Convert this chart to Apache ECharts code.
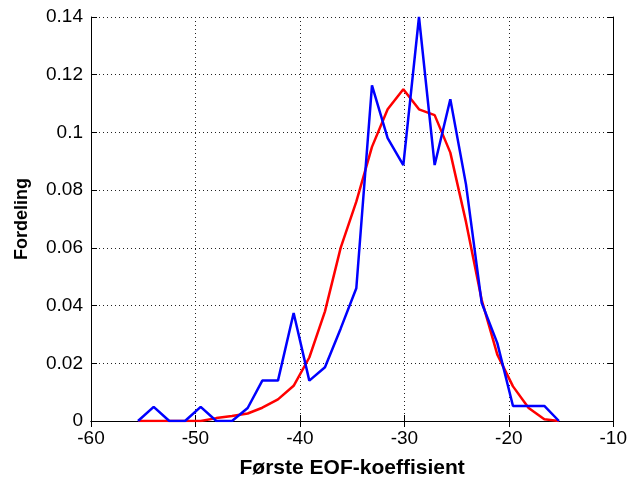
<!DOCTYPE html>
<html lang="no">

<head>
  <meta charset="UTF-8">
  <title>Fordeling</title>
  <script src="https://cdn.jsdelivr.net/npm/echarts@6/dist/echarts.min.js"></script>
  <style>
    * {
      padding: 0;
      margin: 0;
    }

    #main {
      width: 630px;
      height: 484px;
      background: #fff;
    }
  </style>
</head>

<body>
  <div id="main"></div>
  <script>
    // bin centres (first EOF coefficient)
    var binX = [-55.5, -54.0, -52.5, -51.0, -49.5, -48.0, -46.5, -45.0, -43.6, -42.1,
      -40.6, -39.1, -37.6, -36.1, -34.6, -33.1, -31.6, -30.1, -28.6, -27.1,
      -25.6, -24.1, -22.6, -21.1, -19.6, -18.1, -16.6, -15.2];
    // observed distribution (blue)
    var blueY = [0, 0.0049, 0, 0, 0.0049, 0, 0, 0.0045, 0.014, 0.014,
      0.0374, 0.014, 0.0186, 0.032, 0.046, 0.1163, 0.098, 0.0887, 0.14, 0.0887,
      0.1115, 0.082, 0.041, 0.027, 0.0052, 0.0052, 0.0052, 0];
    // smooth distribution (red)
    var redY = [0, 0, 0, 0, 0, 0.001, 0.0017, 0.0026, 0.0046, 0.0075,
      0.0122, 0.022, 0.038, 0.060, 0.076, 0.095, 0.108, 0.115, 0.108, 0.106,
      0.093, 0.069, 0.042, 0.023, 0.012, 0.0045, 0.0006, 0];

    var xMin = -60, xMax = -10, xStep = 10;
    var yMin = 0, yMax = 0.14, yStep = 0.02;

    function pairs(ys) {
      return binX.map(function (x, i) { return [x, ys[i]]; });
    }

    var chartDom = document.getElementById('main');
    var myChart = echarts.init(chartDom);
    var option;

    var font = 'Liberation Sans, Arial, sans-serif';
    var dotted = { color: '#222', width: 1, type: [1, 3] };
    var boxLine = { show: true, lineStyle: { color: '#000', width: 1 } };
    var inTick = { show: true, inside: true, length: 6, lineStyle: { color: '#000' } };

    option = {
      animation: false,
      backgroundColor: '#fff',
      grid: { left: 91, right: 14, top: 17, bottom: 58 },
      xAxis: [
        {
          type: 'value', min: xMin, max: xMax, interval: xStep,
          name: 'Første EOF-koeffisient', nameLocation: 'middle', nameGap: 37,
          nameTextStyle: { fontFamily: font, fontSize: 21, fontWeight: 'bold', color: '#000' },
          axisLine: boxLine, axisTick: inTick,
          axisLabel: { fontFamily: font, fontSize: 19, color: '#000', margin: 8 },
          splitLine: { show: true, lineStyle: dotted }
        },
        {
          type: 'value', position: 'top', min: xMin, max: xMax, interval: xStep,
          axisLine: boxLine, axisTick: inTick,
          axisLabel: { show: false }, splitLine: { show: false }
        }
      ],
      yAxis: [
        {
          type: 'value', min: yMin, max: yMax, interval: yStep,
          name: 'Fordeling', nameLocation: 'middle', nameGap: 60,
          nameTextStyle: { fontFamily: font, fontSize: 18, fontWeight: 'bold', color: '#000' },
          axisLine: boxLine, axisTick: inTick,
          axisLabel: { fontFamily: font, fontSize: 19, color: '#000', margin: 8 },
          splitLine: { show: true, lineStyle: dotted }
        },
        {
          type: 'value', position: 'right', min: yMin, max: yMax, interval: yStep,
          axisLine: boxLine, axisTick: inTick,
          axisLabel: { show: false }, splitLine: { show: false }
        }
      ],
      series: [
        {
          name: 'Glatt',
          type: 'line',
          symbol: 'none',
          lineStyle: { color: '#ff0000', width: 2.5 },
          data: pairs(redY)
        },
        {
          name: 'Observert',
          type: 'line',
          symbol: 'none',
          lineStyle: { color: '#0000ff', width: 2.5 },
          data: pairs(blueY)
        }
      ]
    };

    option && myChart.setOption(option);
  </script>
</body>

</html>
